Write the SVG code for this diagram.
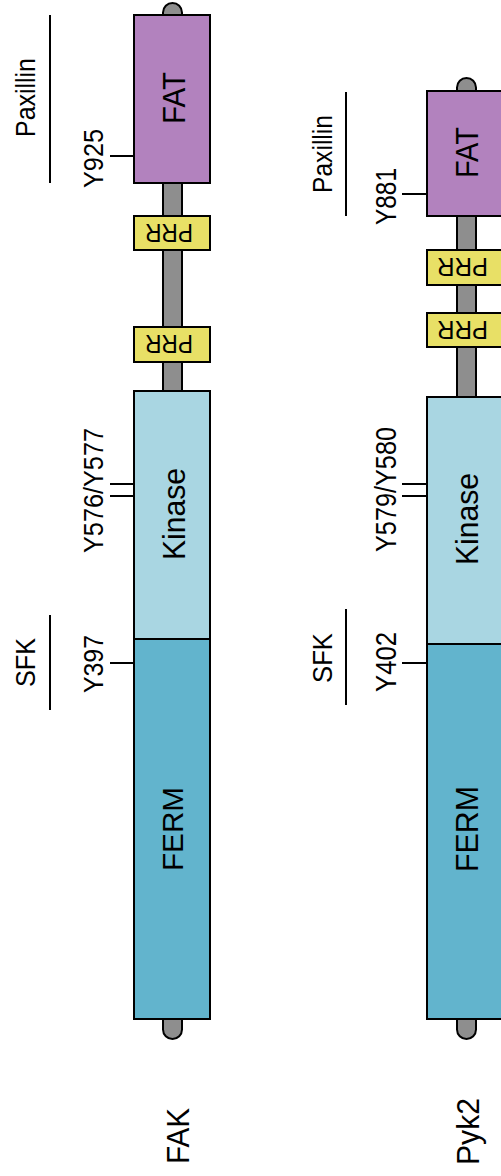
<svg xmlns="http://www.w3.org/2000/svg" width="501" height="1176" viewBox="0 0 501 1176">
<style>
text{font-family:"Liberation Sans",Arial,sans-serif;fill:#000;text-anchor:middle}
.box{stroke:#000;stroke-width:2}
.bar{fill:#8e8e8e;stroke:#000;stroke-width:2}
.fat{fill:#b282be}
.prr{fill:#e8e066}
.kin{fill:#a9d6e2}
.ferm{fill:#62b4cd}
.ln{stroke:#000;stroke-width:2;fill:none}
</style>
<rect width="501" height="1176" fill="#fff"/>
<g id="fak">
<rect class="bar" x="163" y="3" width="19" height="1036" rx="9.5"/>
<g id="fak-fat"><rect class="box fat" x="134" y="15" width="76" height="168"/><text transform="translate(185,98) rotate(-90)" font-size="31" textLength="52" lengthAdjust="spacingAndGlyphs">FAT</text></g>
<g id="fak-prr1"><rect class="box prr" x="134" y="216" width="76" height="34"/><text transform="translate(169,224) rotate(180)" font-size="25" textLength="48" lengthAdjust="spacingAndGlyphs">PRR</text></g>
<g id="fak-prr2"><rect class="box prr" x="134" y="327" width="76" height="35"/><text transform="translate(169,335) rotate(180)" font-size="25" textLength="48" lengthAdjust="spacingAndGlyphs">PRR</text></g>
<g id="fak-kinase"><rect class="box kin" x="134" y="391" width="76" height="248"/><text transform="translate(185,514) rotate(-90)" font-size="32" textLength="92" lengthAdjust="spacingAndGlyphs">Kinase</text></g>
<g id="fak-ferm"><rect class="box ferm" x="134" y="639" width="76" height="380"/><text transform="translate(183,829) rotate(-90)" font-size="30" textLength="84" lengthAdjust="spacingAndGlyphs">FERM</text></g>
<g id="fak-label"><text transform="translate(189,1136) rotate(-90)" font-size="32" textLength="56" lengthAdjust="spacingAndGlyphs">FAK</text></g>
<g id="fak-y925"><text transform="translate(103,158.5) rotate(-90)" font-size="28" textLength="59" lengthAdjust="spacingAndGlyphs">Y925</text></g>
<g id="fak-y576"><text transform="translate(103,490.5) rotate(-90)" font-size="28" textLength="125" lengthAdjust="spacingAndGlyphs">Y576/Y577</text></g>
<g id="fak-y397"><text transform="translate(103,664) rotate(-90)" font-size="28" textLength="58" lengthAdjust="spacingAndGlyphs">Y397</text></g>
<g id="fak-paxillin"><text transform="translate(35,97.5) rotate(-90)" font-size="27" textLength="79" lengthAdjust="spacingAndGlyphs">Paxillin</text></g>
<g id="fak-sfk"><text transform="translate(35,662.5) rotate(-90)" font-size="28" textLength="49" lengthAdjust="spacingAndGlyphs">SFK</text></g>
</g>
<g id="pyk2">
<rect class="bar" x="457" y="78" width="19" height="961" rx="9.5"/>
<g id="pyk2-fat"><rect class="box fat" x="427" y="91" width="80" height="125"/><text transform="translate(478,152.5) rotate(-90)" font-size="32" textLength="51" lengthAdjust="spacingAndGlyphs">FAT</text></g>
<g id="pyk2-prr1"><rect class="box prr" x="427" y="250" width="80" height="35"/><text transform="translate(462.5,258) rotate(180)" font-size="26" textLength="51" lengthAdjust="spacingAndGlyphs">PRR</text></g>
<g id="pyk2-prr2"><rect class="box prr" x="427" y="313" width="80" height="34"/><text transform="translate(462.5,321) rotate(180)" font-size="26" textLength="51" lengthAdjust="spacingAndGlyphs">PRR</text></g>
<g id="pyk2-kinase"><rect class="box kin" x="427" y="397" width="80" height="247"/><text transform="translate(478,519) rotate(-90)" font-size="32" textLength="92" lengthAdjust="spacingAndGlyphs">Kinase</text></g>
<g id="pyk2-ferm"><rect class="box ferm" x="427" y="644" width="80" height="375"/><text transform="translate(478,829) rotate(-90)" font-size="32" textLength="86" lengthAdjust="spacingAndGlyphs">FERM</text></g>
<g id="pyk2-label"><text transform="translate(479,1131.5) rotate(-90)" font-size="32" textLength="67" lengthAdjust="spacingAndGlyphs">Pyk2</text></g>
<g id="pyk2-y881"><text transform="translate(396,196.5) rotate(-90)" font-size="29" textLength="57" lengthAdjust="spacingAndGlyphs">Y881</text></g>
<g id="pyk2-y579"><text transform="translate(396,489.5) rotate(-90)" font-size="29" textLength="125" lengthAdjust="spacingAndGlyphs">Y579/Y580</text></g>
<g id="pyk2-y402"><text transform="translate(396,662) rotate(-90)" font-size="29" textLength="60" lengthAdjust="spacingAndGlyphs">Y402</text></g>
<g id="pyk2-paxillin"><text transform="translate(332,154) rotate(-90)" font-size="27" textLength="78" lengthAdjust="spacingAndGlyphs">Paxillin</text></g>
<g id="pyk2-sfk"><text transform="translate(332,658) rotate(-90)" font-size="28" textLength="50" lengthAdjust="spacingAndGlyphs">SFK</text></g>
</g>
<g id="connectors">
<line class="ln" x1="50" y1="15" x2="50" y2="183"/>
<line class="ln" x1="110" y1="156" x2="134" y2="156"/>
<line class="ln" x1="110" y1="484" x2="134" y2="484"/>
<line class="ln" x1="110" y1="496" x2="134" y2="496"/>
<line class="ln" x1="50" y1="615" x2="50" y2="710"/>
<line class="ln" x1="110" y1="663" x2="134" y2="663"/>
<line class="ln" x1="346" y1="92" x2="346" y2="216"/>
<line class="ln" x1="402" y1="194" x2="427" y2="194"/>
<line class="ln" x1="402" y1="484" x2="427" y2="484"/>
<line class="ln" x1="402" y1="496" x2="427" y2="496"/>
<line class="ln" x1="346" y1="609" x2="346" y2="705"/>
<line class="ln" x1="402" y1="663" x2="427" y2="663"/>
</g>
</svg>
